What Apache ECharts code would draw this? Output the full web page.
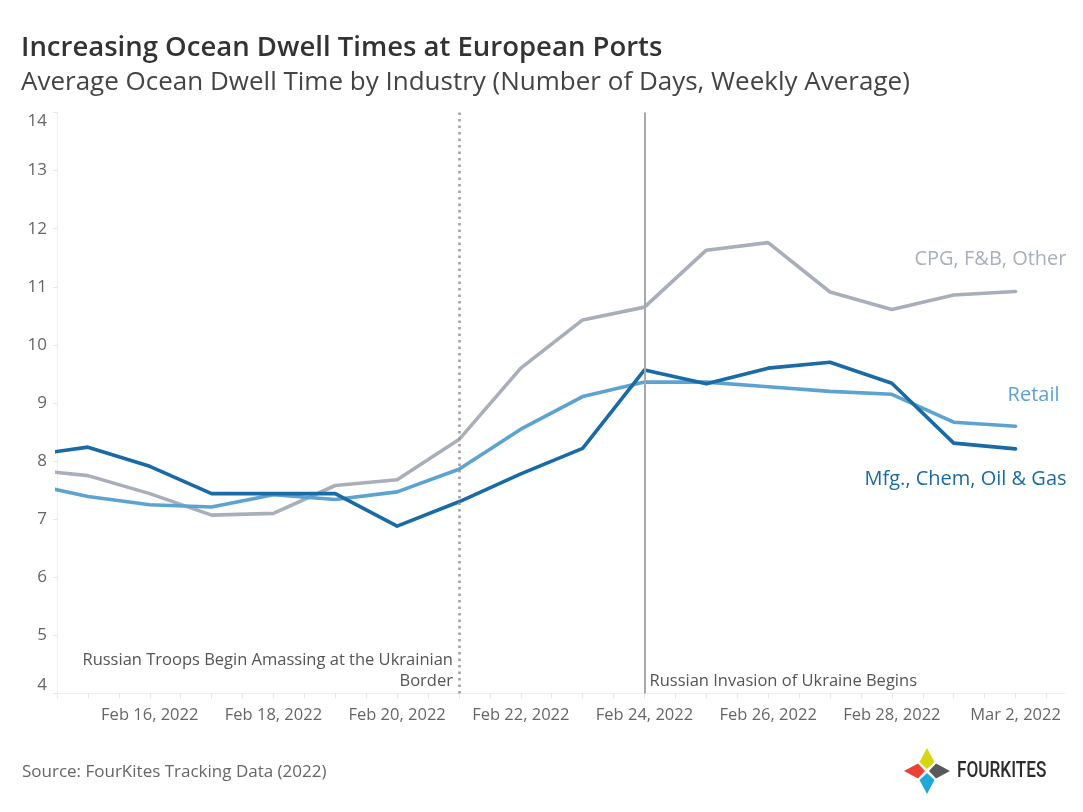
<!DOCTYPE html>
<html>
<head>
<meta charset="utf-8">
<title>Ocean Dwell Times</title>
<script src="https://cdn.jsdelivr.net/npm/echarts@6/dist/echarts.min.js"></script>
<style>
  html, body { margin: 0; padding: 0; background: #fff; }
  #main { width: 1083px; height: 812px; }
</style>
</head>
<body>
<div id="main"></div>
<script>
// days of Feb 2022 (29 = Mar 1, 30 = Mar 2); Feb 14 sits left of the axis and gets clipped
var days = [14, 15, 16, 17, 18, 19, 20, 21, 22, 23, 24, 25, 26, 27, 28, 29, 30];
var cpg    = [7.86, 7.75, 7.44, 7.07, 7.10, 7.58, 7.68, 8.37, 9.60, 10.43, 10.65, 11.63, 11.76, 10.91, 10.61, 10.86, 10.92];
var retail = [7.62, 7.39, 7.25, 7.21, 7.42, 7.34, 7.47, 7.86, 8.55, 9.11, 9.36, 9.36, 9.28, 9.20, 9.15, 8.67, 8.60];
var mfg    = [8.09, 8.24, 7.91, 7.44, 7.44, 7.44, 6.88, 7.30, 7.78, 8.22, 9.57, 9.33, 9.60, 9.70, 9.34, 8.31, 8.21];
var seriesNames = ['CPG, F&B, Other', 'Retail', 'Mfg., Chem, Oil & Gas'];
var yTicks = [4, 5, 6, 7, 8, 9, 10, 11, 12, 13, 14];
var eventDays = [21, 24];

var colors = ['#a8afbb', '#5ca3d1', '#1a6aa6'];
var font = '"Open Sans", "Noto Sans", sans-serif';

function pairs(vals) {
    return days.map(function (d, i) { return [d, vals[i]]; });
}

function dayLabel(v) {
    var d = Math.round(v);
    if (Math.abs(v - d) > 1e-6 || d % 2 !== 0) return '';
    if (d <= 28) return 'Feb ' + d + ', 2022';
    return 'Mar ' + (d - 28) + ', 2022';
}

function lineSeries(name, vals, color, offset) {
    return {
        name: name,
        type: 'line',
        data: pairs(vals),
        showSymbol: false,
        clip: true,
        lineStyle: { color: color, width: 3.6, cap: 'round', join: 'round' },
        itemStyle: { color: color },
        emphasis: { disabled: true },
        endLabel: {
            show: true,
            formatter: name,
            align: 'right',
            offset: offset,
            color: color,
            fontFamily: font,
            fontSize: 20
        }
    };
}

var myChart = echarts.init(document.getElementById('main'));

var option = {
    animation: false,
    backgroundColor: '#fff',
    title: {
        text: 'Increasing Ocean Dwell Times at European Ports',
        subtext: 'Average Ocean Dwell Time by Industry (Number of Days, Weekly Average)',
        left: 16,
        top: 29,
        itemGap: 8,
        textStyle: { fontFamily: font, fontSize: 27.5, fontWeight: 600, color: '#333' },
        subtextStyle: { fontFamily: font, fontSize: 26, color: '#444' }
    },
    grid: { left: 57, right: 18, top: 112.5, bottom: 118.5, containLabel: false },
    xAxis: {
        type: 'value',
        min: 14.5,
        max: 30.8,
        interval: 0.5,
        splitLine: { show: false },
        axisLine: { show: true, lineStyle: { color: '#efefef', width: 1 } },
        axisTick: { show: true, length: 5, lineStyle: { color: '#e6e6e6' } },
        axisLabel: {
            formatter: dayLabel,
            showMaxLabel: false,
            margin: 13,
            color: '#666',
            fontFamily: font,
            fontSize: 16.5
        }
    },
    yAxis: {
        type: 'value',
        min: yTicks[0],
        max: yTicks[yTicks.length - 1],
        interval: 1,
        splitLine: { show: false },
        axisLine: { show: true, lineStyle: { color: '#efefef' } },
        axisTick: { show: true, length: 4, lineStyle: { color: '#e6e6e6' } },
        axisLabel: {
            margin: 10,
            color: '#666',
            fontFamily: font,
            fontSize: 17,
            verticalAlignMaxLabel: 'top',
            verticalAlignMinLabel: 'bottom'
        }
    },
    series: [
        lineSeries(seriesNames[0], cpg, colors[0], [43, -32]),
        lineSeries(seriesNames[1], retail, colors[1], [36, -31]),
        lineSeries(seriesNames[2], mfg, colors[2], [43, 30])
    ]
};

// event lines
option.series[0].markLine = {
    silent: true,
    symbol: ['none', 'none'],
    label: { show: false },
    data: [
        { xAxis: eventDays[0], lineStyle: { color: '#9e9e9e', width: 2.5, type: [2.5, 4] } },
        { xAxis: eventDays[1], lineStyle: { color: '#a8a8a8', width: 2, type: 'solid' } }
    ]
};

myChart.setOption(option);

// annotations and footer
var p1 = myChart.convertToPixel({ gridIndex: 0 }, [eventDays[0], yTicks[0]]);
var p2 = myChart.convertToPixel({ gridIndex: 0 }, [eventDays[1], yTicks[0]]);

function kite(cx, cy, ang, color) {
    var dx = Math.cos(ang), dy = Math.sin(ang);
    var px = -dy, py = dx;
    var pts = [
        [cx + dx * 2, cy + dy * 2],
        [cx + dx * 9 + px * 7.5, cy + dy * 9 + py * 7.5],
        [cx + dx * 23, cy + dy * 23],
        [cx + dx * 9 - px * 7.5, cy + dy * 9 - py * 7.5]
    ];
    return { type: 'polygon', shape: { points: pts }, style: { fill: color } };
}

var lc = [927, 771];
myChart.setOption({
    graphic: [
        {
            type: 'text',
            x: p1[0] - 6,
            y: p1[1] - 2,
            style: {
                text: 'Russian Troops Begin Amassing at the Ukrainian\nBorder',
                align: 'right',
                verticalAlign: 'bottom',
                lineHeight: 21,
                fill: '#555',
                font: '16.5px ' + font
            }
        },
        {
            type: 'text',
            x: p2[0] + 5,
            y: p2[1] - 2,
            style: {
                text: 'Russian Invasion of Ukraine Begins',
                align: 'left',
                verticalAlign: 'bottom',
                lineHeight: 21,
                fill: '#555',
                font: '16.5px ' + font
            }
        },
        {
            type: 'text',
            x: 22,
            y: 772,
            style: {
                text: 'Source: FourKites Tracking Data (2022)',
                verticalAlign: 'middle',
                fill: '#666',
                font: '17px ' + font
            }
        },
        kite(lc[0], lc[1], -Math.PI / 2, '#d6d60f'),
        kite(lc[0], lc[1], Math.PI, '#ee4036'),
        kite(lc[0], lc[1], 0, '#58595b'),
        kite(lc[0], lc[1], Math.PI / 2, '#1ea8d8'),
        {
            type: 'text',
            x: 957,
            y: 771,
            scaleX: 0.78,
            style: {
                text: 'FOURKITES',
                verticalAlign: 'middle',
                fill: '#2b2b2b',
                font: '500 22px Roboto, sans-serif'
            }
        }
    ]
});
</script>
</body>
</html>
